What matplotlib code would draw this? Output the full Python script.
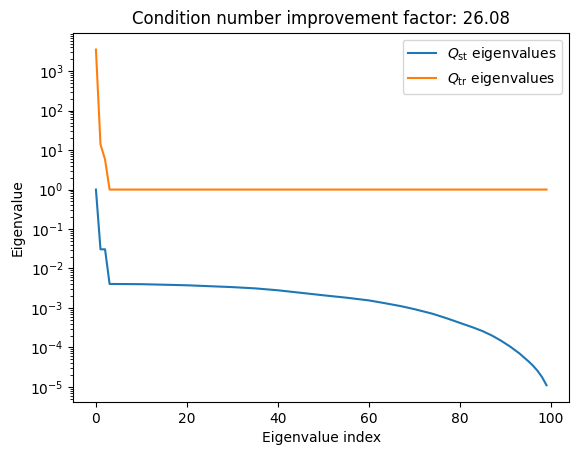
import numpy as np
import matplotlib
matplotlib.use("Agg")
from matplotlib import pyplot as plt

st_idx = [0, 1, 2, 3, 10, 20, 30, 35, 40, 44, 50, 55, 60, 63, 67, 70, 74,
          77, 79, 81, 83, 85, 87, 89, 91, 93, 95, 96, 97, 98, 99]
st_vals = [1.0, 0.0306, 0.0306, 0.00405, 0.00400, 0.00375, 0.00337, 0.00313,
           0.00280, 0.00249, 0.00209, 0.00182, 0.00155, 0.00135, 0.00111,
           0.00093, 0.00071, 0.00055, 0.000457, 0.00038, 0.000316, 0.000257,
           0.000200, 0.000148, 0.000105, 7.1e-5, 4.47e-5, 3.47e-5, 2.57e-5,
           1.78e-5, 1.1e-5]

# Q_tr eigenvalues
tr_idx = [0, 1, 2, 3, 99]
tr_vals = [3540.0, 14.0, 5.8, 1.0, 1.0]

improvement = 26.08

fig = plt.figure(figsize=(5.78, 4.55), dpi=100)
ax = fig.add_subplot(111)
fig.subplots_adjust(left=0.127, right=0.9845, top=0.928, bottom=0.1165)

ax.plot(st_idx, st_vals, label=r"$Q_{\mathrm{st}}$ eigenvalues")
ax.plot(tr_idx, tr_vals, label=r"$Q_{\mathrm{tr}}$ eigenvalues")
ax.set_yscale("log")
ax.set_xticks([0, 20, 40, 60, 80, 100])
ax.set_xlabel("Eigenvalue index")
ax.set_ylabel("Eigenvalue")
ax.set_title("Condition number improvement factor: %.2f" % improvement)
ax.legend()

fig.savefig("out.png", dpi=100)
